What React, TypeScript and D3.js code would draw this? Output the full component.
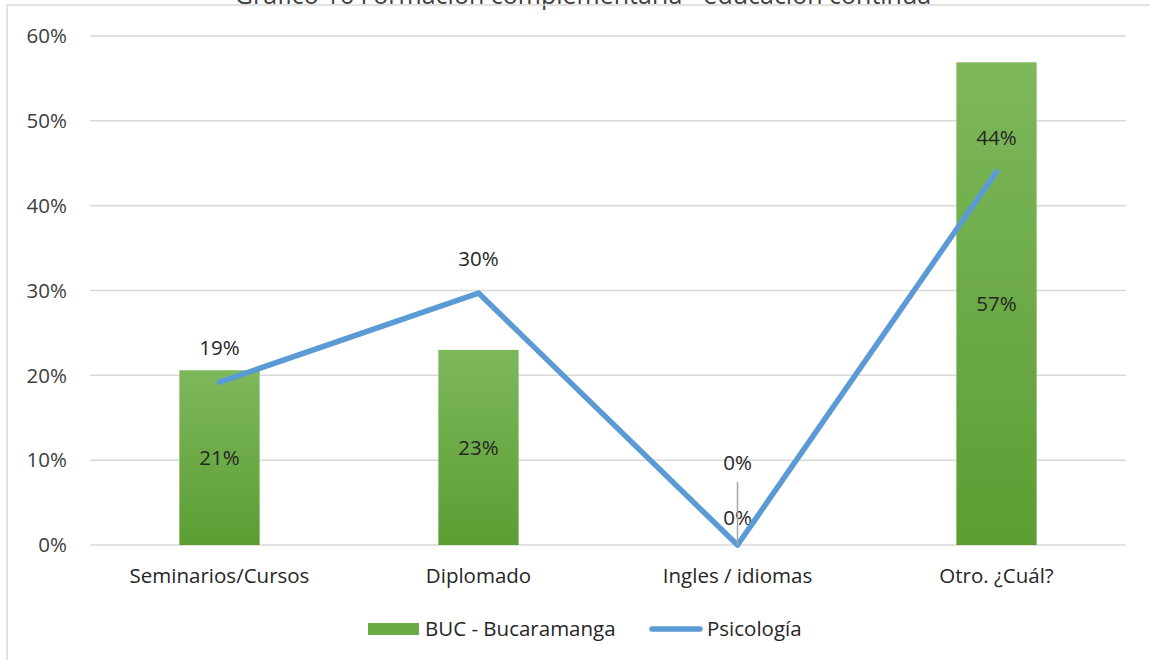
import React from "react";
import * as d3 from "d3";

const categories = ["Seminarios/Cursos", "Diplomado", "Ingles / idiomas", "Otro. ¿Cuál?"];
const bucValues = [0.206, 0.23, 0, 0.569];
const psicoValues = [0.192, 0.297, 0, 0.44];
const yTicks = [0, 0.1, 0.2, 0.3, 0.4, 0.5, 0.6];
const seriesNames = ["BUC - Bucaramanga", "Psicología"];
const titleText = "Gráfico 16 Formación complementaria - educación continua";

const W = 1150, H = 660;
const FONT = "'Open Sans', Lato, sans-serif";
const FS = 20.5;

export default function App() {
  const x = d3.scaleBand<string>().domain(categories).range([90, 1126]).paddingInner(0.69).paddingOuter(0.345);
  const y = d3.scaleLinear().domain([0, 0.6]).range([545, 36]);
  const fmt = d3.format(".0%");
  const cx = (c: string) => (x(c) as number) + x.bandwidth() / 2;
  const line = d3.line<number>().x((_, i) => cx(categories[i])).y((d) => y(d));

  return (
    <svg width={W} height={H} style={{ position: "absolute", left: 0, top: 0 }} fontFamily={FONT}>
      <defs>
        <linearGradient id="gbar" x1="0" y1="0" x2="0" y2="1">
          <stop offset="0%" stopColor="#7db85b" />
          <stop offset="100%" stopColor="#5c9d33" />
        </linearGradient>
      </defs>
      <rect x={0} y={0} width={W} height={H} fill="#fff" />
      <text x={583} y={4} textAnchor="middle" fontSize={25} fill="#404040">{titleText}</text>
      <line x1={7} y1={5} x2={W} y2={5} stroke="#d9d9d9" strokeWidth={1.5} />
      <line x1={7} y1={5} x2={7} y2={H} stroke="#d9d9d9" strokeWidth={1.5} />
      {yTicks.map((t) => (
        <g key={t}>
          <line x1={90} x2={1126} y1={y(t)} y2={y(t)} stroke="#d9d9d9" strokeWidth={1.5} />
          <text x={67} y={y(t)} dy="0.35em" textAnchor="end" fontSize={FS} fill="#404040">{fmt(t)}</text>
        </g>
      ))}
      {categories.map((c, i) => (
        <g key={c}>
          <rect x={x(c)} y={y(bucValues[i])} width={x.bandwidth()} height={y(0) - y(bucValues[i])} fill="url(#gbar)" />
          <text x={cx(c)} y={bucValues[i] > 0 ? (y(bucValues[i]) + y(0)) / 2 : 518} dy="0.35em" textAnchor="middle" fontSize={FS} fill="#262626">{fmt(bucValues[i])}</text>
          <text x={cx(c)} y={576} dy="0.35em" textAnchor="middle" fontSize={FS} fill="#262626">{c}</text>
        </g>
      ))}
      <path d={line(psicoValues) || ""} fill="none" stroke="#5b9bd5" strokeWidth={5.5} strokeLinecap="round" strokeLinejoin="round" />
      {categories.map((c, i) => {
        const zero = psicoValues[i] === 0;
        const ly = zero ? 463 : y(psicoValues[i]) - 34;
        return (
          <g key={c + "l"}>
            {zero && <line x1={cx(c)} x2={cx(c)} y1={482} y2={y(0)} stroke="#a6a6a6" strokeWidth={1.5} />}
            <text x={cx(c)} y={ly} dy="0.35em" textAnchor="middle" fontSize={FS} fill="#262626">{fmt(psicoValues[i])}</text>
          </g>
        );
      })}
      <rect x={368} y={623} width={51} height={12} fill="#6aaa45" />
      <text x={425} y={629} dy="0.35em" fontSize={FS} fill="#262626">{seriesNames[0]}</text>
      <line x1={652} x2={700} y1={629} y2={629} stroke="#5b9bd5" strokeWidth={5.5} strokeLinecap="round" />
      <text x={707} y={629} dy="0.35em" fontSize={FS} fill="#262626">{seriesNames[1]}</text>
    </svg>
  );
}
